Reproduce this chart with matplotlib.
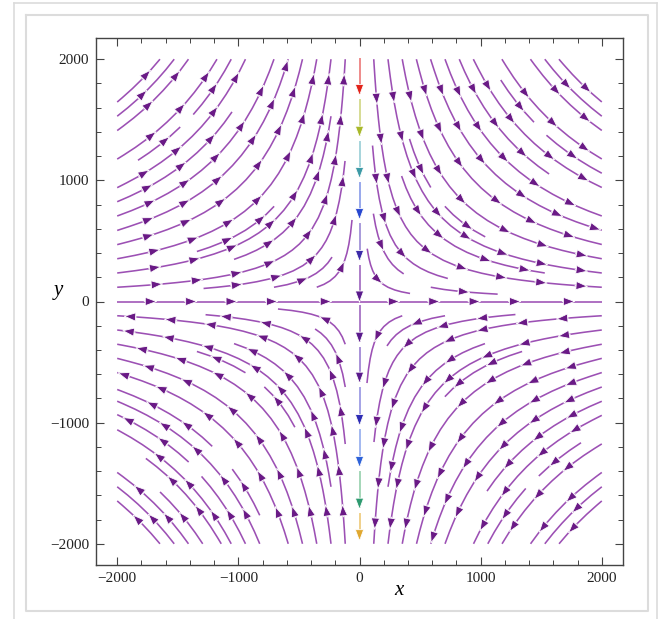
import numpy as np
import matplotlib.pyplot as plt
from matplotlib.patches import FancyArrowPatch
from matplotlib.lines import Line2D
from matplotlib.ticker import MultipleLocator

# plot range and ticks
PLOT_MIN, PLOT_MAX = -2000, 2000
LIM = 2175
MAJOR_TICKS = [-2000, -1000, 0, 1000, 2000]
TICK_LABELS = ["\u22122000", "\u22121000", "0", "1000", "2000"]

# quadrants: (sign of x, sign of y)
QUADRANTS = [(-1, 1), (1, 1), (-1, -1), (1, -1)]

# the stream along x = 0, coloured by speed: arrow tips (top to bottom) and segment colours
AXIS_Y = [2000, 1690, 1345, 1005, 665, 320, -15, -355, -685, -1035, -1380, -1725, -1985]
AXIS_LINE_COLORS = ["#ee8a8a", "#d6dc94", "#a6d4dc", "#98a8ec", "#a89ada", "#ac7cc8",
                    "#ac7cc8", "#a890d8", "#a4a2e6", "#a2b8f0", "#a4d6b8", "#f0d08a"]
AXIS_HEAD_COLORS = ["#e2231a", "#a8b82a", "#3d9aa6", "#2848d0", "#3c2aa8", "#5a1a8c",
                    "#5a1a8c", "#5a1a8c", "#2e2cb4", "#2e62d8", "#2e9a70", "#e0a830"]

LINE_COLOR = "#9c50b4"
HEAD_COLOR = "#6a1a86"
ARROW_SPACING = 345  # data units between arrow heads


def add_head(ax, p0, p1, color):
    ax.add_patch(FancyArrowPatch(p0, p1, arrowstyle="-|>,head_length=0.8,head_width=0.3",
                                 mutation_scale=10, facecolor=color, edgecolor="white",
                                 lw=0.6, shrinkA=0, shrinkB=0, zorder=4))


def quadrant_stream(ax, sx, sy):
    xs = np.linspace(0, PLOT_MAX, 161)
    ys = np.linspace(0, PLOT_MAX, 161)
    if sx < 0:
        xs = xs - PLOT_MAX
    if sy < 0:
        ys = ys - PLOT_MAX
    X, Y = np.meshgrid(xs, ys)
    s = sx * sy
    U = s * X
    V = -s * Y
    n_before = len(ax.patches)
    sp = ax.streamplot(X, Y, U, V, density=0.62, color=LINE_COLOR, linewidth=1.15,
                       minlength=0.2, maxlength=6)
    # drop the single default arrow, arrows are placed at a fixed spacing below
    for p in list(ax.patches)[n_before:]:
        p.remove()
    keep = []
    for seg in sp.lines.get_segments():
        # streamlines lying on the axes themselves are not part of the picture
        if np.all(np.abs(seg[:, 0]) < 1):
            continue
        if sy < 0 and np.all(np.abs(seg[:, 1]) < 1):
            continue
        keep.append(seg)
    sp.lines.set_segments(keep)
    for seg in keep:
        if len(seg) < 3:
            continue
        d = np.concatenate([[0], np.cumsum(np.hypot(*np.diff(seg, axis=0).T))])
        pos = ARROW_SPACING * 0.85
        while pos < d[-1] - 60:
            i = np.searchsorted(d, pos)
            i = min(max(i, 1), len(seg) - 1)
            add_head(ax, tuple(seg[i - 1]), tuple(seg[i]), HEAD_COLOR)
            pos += ARROW_SPACING


def main():
    plt.rcParams["font.family"] = ["Liberation Serif", "DejaVu Serif"]
    fig = plt.figure(figsize=(6.62, 6.19), dpi=100)
    ax = fig.add_axes([96 / 662, 54 / 619, 527 / 662, 527 / 619])

    for sx, sy in QUADRANTS:
        quadrant_stream(ax, sx, sy)

    # stream on x = 0
    for k in range(len(AXIS_Y) - 1):
        y0, y1 = AXIS_Y[k], AXIS_Y[k + 1]
        start = y0 if k == 0 else y0 - 25
        ax.plot([0, 0], [start, y1 + 30], color=AXIS_LINE_COLORS[k], lw=1.4, zorder=3)
        add_head(ax, (0, y1 + 20), (0, y1), AXIS_HEAD_COLORS[k])

    ax.set_xlim(-LIM, LIM)
    ax.set_ylim(-LIM, LIM)
    ax.set_xticks(MAJOR_TICKS)
    ax.set_xticklabels(TICK_LABELS)
    ax.set_yticks(MAJOR_TICKS)
    ax.set_yticklabels(TICK_LABELS)
    ax.xaxis.set_minor_locator(MultipleLocator(200))
    ax.yaxis.set_minor_locator(MultipleLocator(200))
    ax.tick_params(which="both", direction="in", top=True, right=True, colors="#444444",
                   labelcolor="#222222", labelsize=11, pad=5)
    ax.tick_params(which="major", length=6, width=0.8)
    ax.tick_params(which="minor", length=3.5, width=0.7)
    for sp in ax.spines.values():
        sp.set_color("#444444")
        sp.set_linewidth(1.0)

    ax.text(-0.072, 0.52, "y", transform=ax.transAxes, fontsize=15, style="italic",
            ha="center", va="center")
    ax.text(0.575, -0.048, "x", transform=ax.transAxes, fontsize=15, style="italic",
            ha="center", va="center")

    # screenshot frame
    W, H = 662, 619
    fc = "#dcdcdc"
    fig.add_artist(Line2D([14 / W, 14 / W], [0, 1 - 3 / H], color=fc, lw=1.2))
    fig.add_artist(Line2D([657 / W, 657 / W], [0, 1 - 3 / H], color=fc, lw=1.2))
    fig.add_artist(Line2D([14 / W, 657 / W], [1 - 3 / H, 1 - 3 / H], color=fc, lw=1.2))
    fig.add_artist(Line2D([26 / W, 648 / W, 648 / W, 26 / W, 26 / W],
                          [1 - 15 / H, 1 - 15 / H, 1 - 611 / H, 1 - 611 / H, 1 - 15 / H],
                          color=fc, lw=1.5))

    fig.savefig("out.png", dpi=100)
    plt.close(fig)


if __name__ == "__main__":
    main()
